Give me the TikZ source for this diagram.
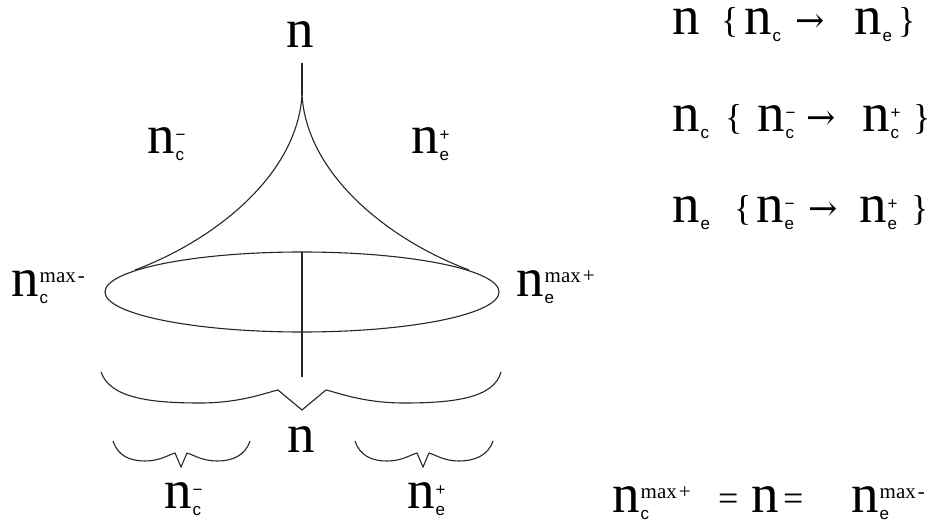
\documentclass[tikz,border=0pt]{standalone}
\usepackage{fontspec}
\setmainfont{Liberation Serif}
\newfontfamily\subfam{Liberation Sans}
\newfontfamily\arrowfam{DejaVu Serif}
\newcommand\bigf{\fontsize{55}{60}\selectfont}
\newcommand\subf{\subfam\fontsize{17}{17}\selectfont}
\newcommand\maxf{\fontsize{21}{21}\selectfont}
\newcommand\midf{\fontsize{36}{40}\selectfont}
\newcommand\arrf{\arrowfam\fontsize{35}{40}\selectfont}
\newcommand\nsym[2]{n\kern1pt\rlap{\raisebox{13pt}{\subf #2}}\raisebox{-7pt}{\subf #1}}
\newcommand\nmax[2]{n\kern1pt\rlap{\raisebox{14pt}{\maxf max\kern2pt#2}}\raisebox{-7pt}{\subf #1}}
\tikzset{
  lbl/.style={inner sep=0pt, anchor=base west, font=\bigf, text height=27pt, text depth=9pt},
  sym/.style={inner sep=0pt, anchor=base west, font=\midf, text height=26pt, text depth=8pt},
  arr/.style={inner sep=0pt, anchor=base west, font=\arrf, text height=20pt, text depth=0pt},
  curve/.style={line width=1.1pt, draw=black!85}
}
\begin{document}
\begin{tikzpicture}[x=1pt, y=-1pt]
\useasboundingbox[fill=white] (0,0) rectangle (937,521);

% ---- cusp figure ----
\coordinate (top) at (302,63);
\coordinate (split) at (302,95);
\coordinate (lt) at (135,270);
\coordinate (rt) at (469,270);
\draw[curve] (top) -- (split);
\draw[curve] (split) .. controls (297,175) and (215,240) .. (lt);
\draw[curve] (split) .. controls (307,175) and (389,240) .. (rt);
\draw[curve] (302,292) ellipse [x radius=197, y radius=40];
\coordinate (axt) at (302,252);
\coordinate (axb) at (302,377);
\draw[curve] (axt) -- (axb);

% ---- braces ----
\draw[curve] (101,372) .. controls (110,398) and (150,403) .. (200,403)
  .. controls (240,403) and (265,393) .. (278,390) -- (302,410) -- (326,390)
  .. controls (339,393) and (364,403) .. (404,403)
  .. controls (454,403) and (494,398) .. (501,372);
\draw[curve] (113,441) .. controls (118,456) and (130,461) .. (145,461)
  .. controls (160,461) and (168,455) .. (175,453) -- (181,467) -- (187,453)
  .. controls (194,455) and (202,461) .. (217,461)
  .. controls (232,461) and (245,456) .. (250,441);
\draw[curve] (355,441) .. controls (360,456) and (372,461) .. (387,461)
  .. controls (402,461) and (410,455) .. (417,453) -- (423,467) -- (429,453)
  .. controls (436,455) and (444,461) .. (459,461)
  .. controls (474,461) and (488,456) .. (493,441);

% ---- labels of the figure ----
\node[lbl] (ntop) at (286,48) {n};
\node[lbl] (ncm) at (147,154) {\nsym{c}{−}};
\node[lbl] (nep) at (411,154) {\nsym{e}{+}};
\node[lbl] (ncmax) at (11,297) {\nmax{c}{-}};
\node[lbl] (nemax) at (516,297) {\nmax{e}{+}};
\node[lbl] (nmid) at (287,452) {n};
\node[lbl] (ncmb) at (164,508) {\nsym{c}{−}};
\node[lbl] (nepb) at (407,508) {\nsym{e}{+}};

% ---- line 1 ----
\node[lbl] (a1) at (672,35) {n};
\node[sym] (a2) at (721,33) {\{};
\node[lbl] (a3) at (744,35) {\nsym{c}{}};
\node[arr] (a4) at (795,33) {→};
\node[lbl] (a5) at (854,35) {\nsym{e}{}};
\node[sym] (a6) at (898,33) {\}};

% ---- line 2 ----
\node[lbl] (b1) at (672,132) {\nsym{c}{}};
\node[sym] (b2) at (725,130) {\{};
\node[lbl] (b3) at (757,132) {\nsym{c}{−}};
\node[arr] (b4) at (806,130) {→};
\node[lbl] (b5) at (862,132) {\nsym{c}{+}};
\node[sym] (b6) at (913,130) {\}};

% ---- line 3 ----
\node[lbl] (c1) at (672,223) {\nsym{e}{}};
\node[sym] (c2) at (734,221) {\{};
\node[lbl] (c3) at (756,223) {\nsym{e}{−}};
\node[arr] (c4) at (808,221) {→};
\node[lbl] (c5) at (859,223) {\nsym{e}{+}};
\node[sym] (c6) at (911,221) {\}};

% ---- bottom equation ----
\node[lbl] (d1) at (612,512) {\nmax{c}{+}};
\node[sym] (d2) at (718,510) {=};
\node[lbl] (d3) at (751,512) {n};
\node[sym] (d4) at (783,510) {=};
\node[lbl] (d5) at (851,512) {\nmax{e}{-}};
\end{tikzpicture}
\end{document}
